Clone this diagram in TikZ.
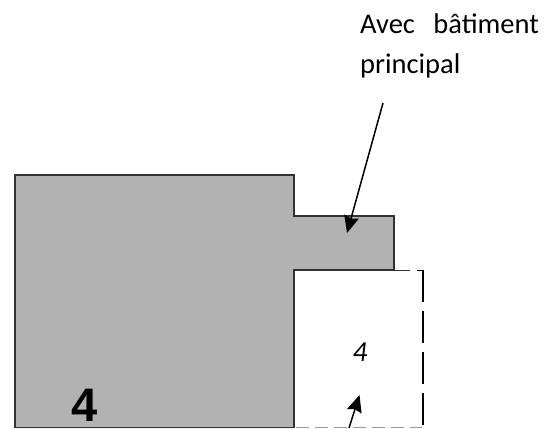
\documentclass[tikz,border=0pt]{standalone}
\usepackage{fontspec}
\setmainfont{Carlito}
\newfontfamily\bigfont{Liberation Sans}
\usetikzlibrary{arrows.meta}
\definecolor{bgray}{RGB}{178,178,178}
\definecolor{edgegray}{RGB}{50,50,50}
\tikzset{
  outline/.style={draw=edgegray,line width=1.9pt},
  dashline/.style={draw=black,line width=2pt,dash pattern=on 32pt off 9pt},
  pointer/.style={draw=black,line width=1.5pt,-{Stealth[length=17pt,width=15pt,inset=2pt]}},
  lbl/.style={inner sep=0pt,anchor=base west,font=\fontsize{28.5pt}{32pt}\selectfont}
}
\begin{document}
\begin{tikzpicture}[x=1pt,y=-1pt]
\useasboundingbox (0,0) rectangle (559,428);
\fill[bgray] (15,175) -- (294,175) -- (294,216) -- (394,216) -- (394,270) -- (294,270) -- (294,428) -- (15,428) -- cycle;
\draw[outline] (294,428) -- (294,270) -- (394,270) -- (394,216) -- (294,216) -- (294,175) -- (15,175) -- (15,428);
\draw[draw=edgegray,line width=1pt] (15,427.5) -- (294,427.5);
\draw[outline] (394,270.5) -- (410,270.5);
\draw[dashline] (422.5,270) -- (422.5,428);
\draw[draw=black,line width=1pt] (417,270.5) -- (423,270.5);
\draw[draw=black!40,line width=1.2pt,dash pattern=on 13pt off 6pt] (296,427.4) -- (422,427.4);
\node[inner sep=0pt,font=\bigfont\fontsize{47pt}{50pt}\selectfont\bfseries] (big) at (85,405) {4};
\node[inner sep=0pt,font=\fontsize{29pt}{32pt}\selectfont\itshape] (small) at (360,352) {4};
\node[lbl] (l1) at (360,34) {Avec\hspace{12pt} bâtiment};
\node[lbl] (l2) at (360,74) {principal};
\coordinate (a1) at (383,103);
\coordinate (a2) at (347,233);
\coordinate (b1) at (349,428);
\coordinate (b2) at (359.5,395);
\draw[pointer] (a1) -- (a2);
\draw[pointer] (b1) -- (b2);
\end{tikzpicture}
\end{document}
